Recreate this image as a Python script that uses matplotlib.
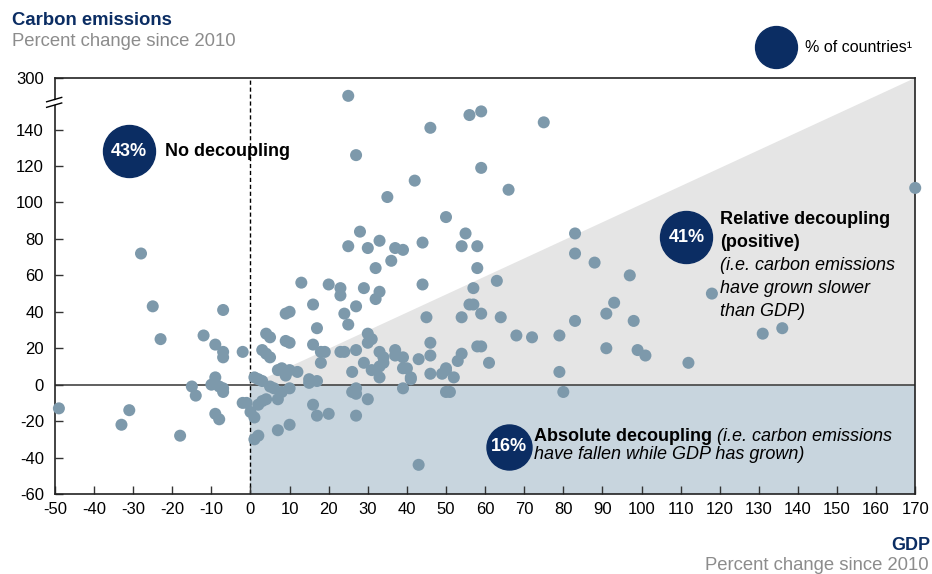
import numpy as np
import matplotlib
matplotlib.use("Agg")
import matplotlib.pyplot as plt

plt.rcParams['font.family'] = ['Liberation Sans', 'DejaVu Sans']
plt.rcParams['axes.unicode_minus'] = False

# GDP change vs carbon emissions change since 2010, one point per country
gdp = [-49, -31, -33, -28, -25, -23, -18, -15, -14, -12, -9, -9, -10, -8, -7, -7,
       -7, -7, -7, -9, -8, -2, -2, -1,
       0, 1, 1, 2, 1, 2, 3, 2, 3, 4, 5, 6, 8, 7, 7, 10, 10, 7, 8, 9, 10, 12,
       3, 4, 5, 4, 5, 9, 10, 9, 10, 13, 16, 16, 17, 15, 17, 15, 18, 19, 18,
       16, 17, 20, 20, 23, 23, 24, 23, 24, 25, 27, 27, 26, 26, 27, 27, 27,
       29, 33, 32, 30, 31, 30, 29, 33, 34, 34, 33, 31, 33, 30, 32, 36, 25,
       30, 33, 37, 39, 44, 28, 35, 42, 27, 46, 25, 56, 59, 59, 66, 75, 50,
       55, 54, 58, 58, 63, 57, 44, 45, 46, 46, 46, 37, 37, 39, 43, 39, 40,
       41, 41, 49, 50, 52, 50, 53, 54, 39, 50, 51, 43, 56, 57, 54, 59, 64,
       58, 59, 61, 68, 72, 79, 79, 80, 83, 83, 83, 88, 91, 93, 98, 97, 91,
       99, 101, 112, 118, 131, 136, 170]
emissions = [-13, -14, -22, 72, 43, 25, -28, -1, -6, 27, 22, 4, 0, -1, -2, -4,
             41, 18, 15, -16, -19, 18, -10, -10,
             -15, -18, -30, -28, 4, 3, 2, -11, -9, -8, -1, -2, -4, -8, -25, -22,
             -2, 8, 9, 5, 8, 7,
             19, 17, 15, 28, 26, 24, 23, 39, 40, 56, 44, 22, 31, 3, 2, 1, 18,
             18, 12, -11, -17, -16, 55, 53, 49, 39, 18, 18, 33, 43, 19, 7, -4,
             -2, -5, -17,
             53, 51, 47, 28, 25, 23, 12, 18, 15, 12, 10, 8, 4, -8, 64, 68, 76,
             75, 79, 75, 74, 78, 84, 103, 112, 126, 141, 220, 148, 150, 119,
             107, 144, 92,
             83, 76, 76, 64, 57, 53, 55, 37, 23, 16, 6, 19, 16, 15, 14, 9, 9,
             3, 4, 6, 8, 4, 9, 13, 17, -2, -4, -4, -44, 44, 44, 37, 39, 37,
             21, 21, 12, 27, 26, 27, 7, -4, 35, 83, 72, 67, 39, 45, 35, 60, 20,
             19, 16, 12, 50, 28, 31, 108]

x_ticks = list(range(-50, 171, 10))
y_ticks = [-60, -40, -20, 0, 20, 40, 60, 80, 100, 120, 140, 300]

NAVY = '#0b2d63'
DOT = '#7d99ab'
FS = 13

# compress everything above 150 so the 300 tick sits just above 140
BREAK = 150
K = 0.122


def fwd(y):
    y = np.asarray(y, dtype=float)
    return np.where(y <= BREAK, y, BREAK + (y - BREAK) * K)


def inv(y):
    y = np.asarray(y, dtype=float)
    return np.where(y <= BREAK, y, BREAK + (y - BREAK) / K)


fig = plt.figure(figsize=(9.32, 5.74), dpi=100)
ax = fig.add_axes([0.059, 0.1394, 0.923, 0.7246])
ax.set_yscale('function', functions=(fwd, inv))
ax.set_xlim(-50, 170)
ax.set_ylim(-60, 300)

# shaded regions
ax.fill([0, 170, 170], [0, 0, 300], color='#e5e5e5', lw=0, zorder=0)
ax.fill([0, 170, 170, 0], [-60, -60, 0, 0], color='#c8d5de', lw=0, zorder=0)

ax.axhline(0, color='#444444', lw=1.2, zorder=1)
ax.axvline(0, color='black', lw=1, ls=(0, (3, 2)), zorder=1)

ax.scatter(gdp, emissions, s=75, color=DOT, edgecolors='none', zorder=3,
           clip_on=False)

ax.set_xticks(x_ticks)
ax.set_yticks(y_ticks)
ax.set_yticklabels([str(v) for v in y_ticks])
ax.tick_params(direction='in', length=6, width=1, labelsize=12, color='#333333')
ax.tick_params(axis='x', pad=6)
ax.tick_params(axis='y', pad=8)
for sp in ax.spines.values():
    sp.set_color('#222222')
    sp.set_linewidth(1.2)

# axis break marks on the left spine
ax.fill([-0.012, 0.012, 0.012, -0.012], [0.931, 0.941, 0.952, 0.942],
        transform=ax.transAxes, color='white', lw=0, clip_on=False, zorder=6)
for y0 in (0.943, 0.9296):
    ax.plot([-0.0097, 0.0078], [y0, y0 + 0.0105], transform=ax.transAxes,
            color='black', lw=1, clip_on=False, zorder=7)

# category bubbles and labels
ax.scatter([-31], [128], s=1400, color=NAVY, zorder=4)
ax.text(-31, 128, '43%', color='white', fontsize=FS, fontweight='bold',
        ha='center', va='center', zorder=5)
ax.text(-21.8, 128, 'No decoupling', fontsize=FS, fontweight='bold',
        ha='left', va='center', zorder=5)

ax.scatter([111.5], [81], s=1400, color=NAVY, zorder=4)
ax.text(111.5, 81, '41%', color='white', fontsize=FS, fontweight='bold',
        ha='center', va='center', zorder=5)
ax.text(120, 90.5, 'Relative decoupling', fontsize=FS, fontweight='bold',
        ha='left', va='center', zorder=5)
ax.text(120, 78, '(positive)', fontsize=FS, fontweight='bold',
        ha='left', va='center', zorder=5)
for yy, line in [(65.4, '(i.e. carbon emissions'), (52.9, 'have grown slower'),
                 (40.3, 'than GDP)')]:
    ax.text(120, yy, line, fontsize=FS, style='italic', ha='left',
            va='center', zorder=5)

ax.scatter([66], [-34], s=1050, color=NAVY, zorder=4)
ax.text(66, -34, '16%', color='white', fontsize=FS, fontweight='bold',
        ha='center', va='center', zorder=5)
t = ax.text(72.6, -28.3, 'Absolute decoupling', fontsize=FS,
            fontweight='bold', ha='left', va='center', zorder=5)
ax.annotate(' (i.e. carbon emissions', xy=(1, 0), xycoords=t, fontsize=FS,
            style='italic', ha='left', va='bottom', zorder=5)
ax.text(72.6, -38.1, 'have fallen while GDP has grown)', fontsize=FS,
        style='italic', ha='left', va='center', zorder=5)

# titles
fig.text(0.013, 0.965, 'Carbon emissions', color=NAVY, fontsize=13.3,
         fontweight='bold', ha='left', va='center')
fig.text(0.013, 0.927, 'Percent change since 2010', color='#8c8c8c',
         fontsize=13.3, ha='left', va='center')
fig.text(0.998, 0.049, 'GDP', color=NAVY, fontsize=13, fontweight='bold',
         ha='right', va='center')
fig.text(0.996, 0.014, 'Percent change since 2010', color='#8c8c8c',
         fontsize=13.3, ha='right', va='center')

# legend bubble
ax.scatter([0.8326], [0.918], s=910, color=NAVY, transform=fig.transFigure,
           clip_on=False, zorder=4)
fig.text(0.864, 0.918, '% of countries\u00b9', fontsize=11.5, ha='left',
         va='center')

fig.savefig('out.png', dpi=100)
